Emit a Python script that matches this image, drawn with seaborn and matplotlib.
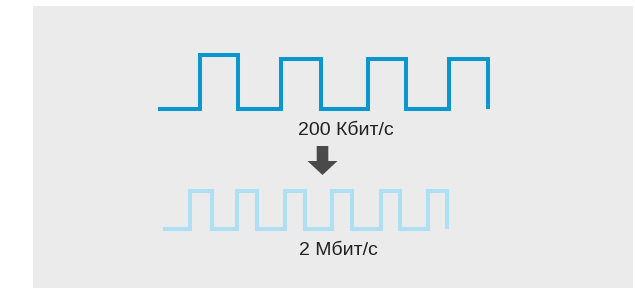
import matplotlib
matplotlib.use("Agg")
import matplotlib.pyplot as plt
import seaborn as sns
import pandas as pd

sns.set_theme(style="white")
plt.rcParams['font.family'] = ['Liberation Sans', 'DejaVu Sans']

# top signal: 200 Kbit/s (slow)
slow_x = [158, 200, 238, 281, 321, 368, 406, 449, 488]
slow_y = [108.5, 54.5, 108.5, 58.5, 108.5, 58.5, 108.5, 58.5, 108.5]
slow_label = "200 Кбит/с"

# bottom signal: 2 Mbit/s (fast)
fast_x = [163, 190, 212, 237, 257, 285, 305, 332, 352, 381, 400, 428, 447]
fast_y = [229, 190.5, 229, 190.5, 229, 190.5, 229, 190.5, 229, 190.5, 229, 190.5, 229]
fast_label = "2 Мбит/с"

slow = pd.DataFrame({"x": slow_x, "y": slow_y})
fast = pd.DataFrame({"x": fast_x, "y": fast_y})

fig = plt.figure(figsize=(6.35, 2.88), dpi=100)
ax = fig.add_axes([33 / 635, 0, 600 / 635, 282 / 288])
ax.set_facecolor("#ebebeb")

sns.lineplot(data=slow, x="x", y="y", drawstyle="steps-post", sort=False, estimator=None,
             color="#0a97cf", linewidth=2.9, ax=ax)
sns.lineplot(data=fast, x="x", y="y", drawstyle="steps-post", sort=False, estimator=None,
             color="#ade0f5", linewidth=2.9, ax=ax)
for ln in ax.lines:
    ln.set_solid_capstyle("butt")
    ln.set_solid_joinstyle("miter")

ax.text(346, 130.5, slow_label, ha="center", va="center", fontsize=14, color="#222222")
ax.text(338, 250.5, fast_label, ha="center", va="center", fontsize=14, color="#222222")

ax.arrow(322.5, 146, 0, 29, width=11.6, head_width=30, head_length=14,
         length_includes_head=True, color="#4a4a4a", linewidth=0)

ax.set_xlim(33, 633)
ax.set_ylim(288, 6)
for s in ax.spines.values():
    s.set_visible(False)
ax.set_xticks([])
ax.set_yticks([])
ax.set_xlabel("")
ax.set_ylabel("")

fig.savefig("out.png", dpi=100)
